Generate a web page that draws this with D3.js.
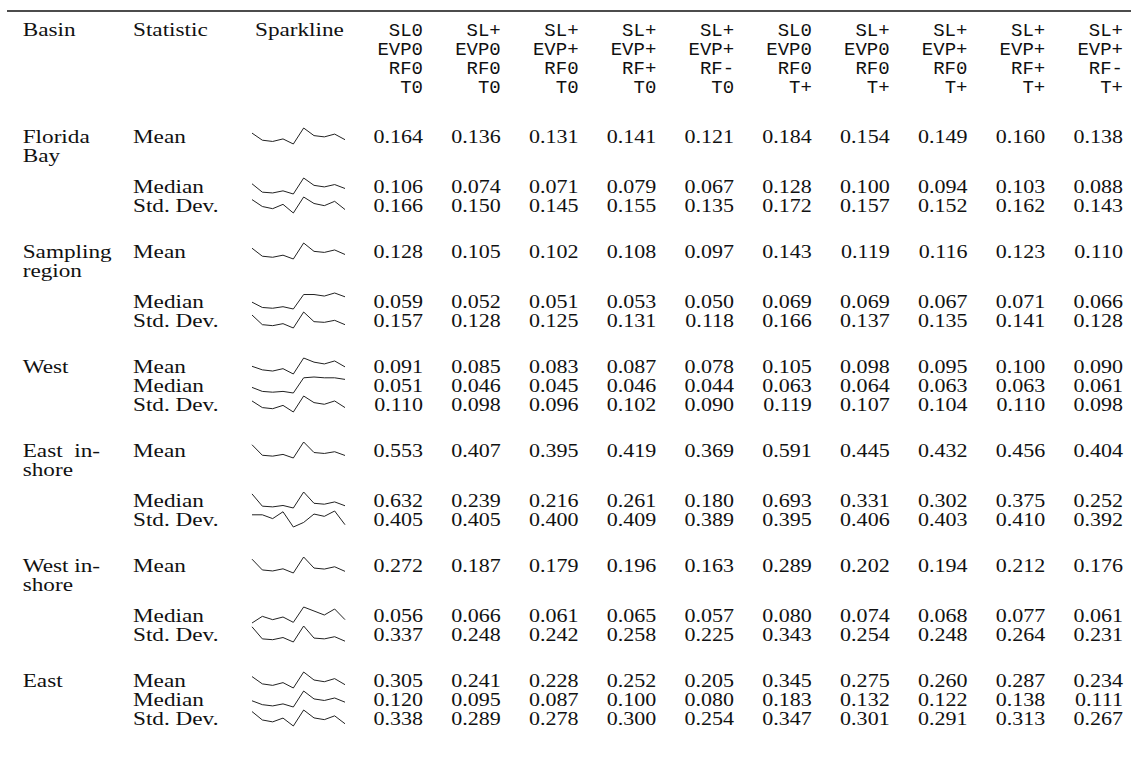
<!DOCTYPE html>
<html><head><meta charset="utf-8">
<script src="https://cdn.jsdelivr.net/npm/d3@7"></script>
<style>
html,body{margin:0;padding:0;background:#fff;}
svg{display:block;}
.serif{font-family:"Liberation Serif","Times New Roman",serif;fill:#111;}
.mono{font-family:"Liberation Mono","DejaVu Sans Mono",monospace;fill:#111;}
</style></head>
<body>
<svg id="chart" width="1131" height="764"></svg>
<script>
// ---- data ----
const headerLabels = ["Basin", "Statistic", "Sparkline"];
const scenarioSL  = ["SL0","SL+","SL+","SL+","SL+","SL0","SL+","SL+","SL+","SL+"];
const scenarioEVP = ["EVP0","EVP0","EVP+","EVP+","EVP+","EVP0","EVP0","EVP+","EVP+","EVP+"];
const scenarioRF  = ["RF0","RF0","RF0","RF+","RF-","RF0","RF0","RF0","RF+","RF-"];
const scenarioT   = ["T0","T0","T0","T0","T0","T+","T+","T+","T+","T+"];
const statistics = ["Mean", "Median", "Std. Dev."];
const basinNames = [["Florida","Bay"],["Sampling","region"],["West"],["East in-","shore"],["West in-","shore"],["East"]];

const floridaBay = [
  [0.164,0.136,0.131,0.141,0.121,0.184,0.154,0.149,0.160,0.138],
  [0.106,0.074,0.071,0.079,0.067,0.128,0.100,0.094,0.103,0.088],
  [0.166,0.150,0.145,0.155,0.135,0.172,0.157,0.152,0.162,0.143]];
const samplingRegion = [
  [0.128,0.105,0.102,0.108,0.097,0.143,0.119,0.116,0.123,0.110],
  [0.059,0.052,0.051,0.053,0.050,0.069,0.069,0.067,0.071,0.066],
  [0.157,0.128,0.125,0.131,0.118,0.166,0.137,0.135,0.141,0.128]];
const west = [
  [0.091,0.085,0.083,0.087,0.078,0.105,0.098,0.095,0.100,0.090],
  [0.051,0.046,0.045,0.046,0.044,0.063,0.064,0.063,0.063,0.061],
  [0.110,0.098,0.096,0.102,0.090,0.119,0.107,0.104,0.110,0.098]];
const eastInshore = [
  [0.553,0.407,0.395,0.419,0.369,0.591,0.445,0.432,0.456,0.404],
  [0.632,0.239,0.216,0.261,0.180,0.693,0.331,0.302,0.375,0.252],
  [0.405,0.405,0.400,0.409,0.389,0.395,0.406,0.403,0.410,0.392]];
const westInshore = [
  [0.272,0.187,0.179,0.196,0.163,0.289,0.202,0.194,0.212,0.176],
  [0.056,0.066,0.061,0.065,0.057,0.080,0.074,0.068,0.077,0.061],
  [0.337,0.248,0.242,0.258,0.225,0.343,0.254,0.248,0.264,0.231]];
const east = [
  [0.305,0.241,0.228,0.252,0.205,0.345,0.275,0.260,0.287,0.234],
  [0.120,0.095,0.087,0.100,0.080,0.183,0.132,0.122,0.138,0.111],
  [0.338,0.289,0.278,0.300,0.254,0.347,0.301,0.291,0.313,0.267]];
const basinValues = [floridaBay, samplingRegion, west, eastInshore, westInshore, east];

// ---- layout ----
const svg = d3.select("#chart");
const fs = 19.5, sxText = 1.19, sxNum = 1.13;
const xBasin = 22.7, xBasinR = 100, xStat = 133, xSparkHead = 255;
const col = d3.scaleLinear().domain([0, 9]).range([423, 1123]);
const spark = d3.scaleLinear().domain([0, 9]).range([252, 345]);
const fmt = d3.format(".3f");

function serif(x, y, s, anchor, sx) {
  svg.append("text").attr("class","serif")
    .attr("transform", `translate(${x},${y}) scale(${sx},1)`)
    .attr("text-anchor", anchor || "start")
    .attr("font-size", fs).text(s);
}

// top rule
svg.append("line").attr("x1",7).attr("x2",1131).attr("y1",11).attr("y2",11)
  .attr("stroke","#111").attr("stroke-width",1.6);

// header
const hBase = 35.5, hStep = 19.2;
serif(xBasin, hBase, headerLabels[0], "start", sxText);
serif(xStat, hBase, headerLabels[1], "start", sxText);
serif(xSparkHead, hBase, headerLabels[2], "start", sxText);
[scenarioSL, scenarioEVP, scenarioRF, scenarioT].forEach((arr, li) => {
  arr.forEach((s, i) => {
    svg.append("text").attr("class","mono")
      .attr("x", col(i)).attr("y", hBase + li * hStep)
      .attr("text-anchor","end").attr("font-size", 19).text(s);
  });
});

// body
let y = 142.5;
const step = 19, wrapStep = 50, groupGap = 46;
basinValues.forEach((rows, g) => {
  const lines = basinNames[g];
  lines.forEach((ln, k) => {
    const by = y + k * step;
    if (ln.endsWith("-") && ln.includes(" ")) {
      const parts = ln.split(" ");
      serif(xBasin, by, parts[0], "start", sxText);
      serif(xBasinR, by, parts[parts.length-1], "end", sxText);
    } else {
      serif(xBasin, by, ln, "start", sxText);
    }
  });
  rows.forEach((vals, r) => {
    serif(xStat, y, statistics[r], "start", sxText);
    vals.forEach((v, i) => serif(col(i), y, fmt(v), "end", sxNum));
    const c = y - 6.5;
    const ys = d3.scaleLinear().domain(d3.extent(vals)).range([c + 8, c - 8]);
    const line = d3.line().x((d, i) => spark(i)).y(d => ys(d));
    svg.append("path").datum(vals).attr("d", line)
      .attr("fill","none").attr("stroke","#222").attr("stroke-width",1)
      .attr("stroke-linejoin","miter");
    if (r === 0) y += (lines.length > 1 ? wrapStep : step);
    else if (r === 1) y += step;
  });
  y += groupGap;
});
</script>
</body></html>
